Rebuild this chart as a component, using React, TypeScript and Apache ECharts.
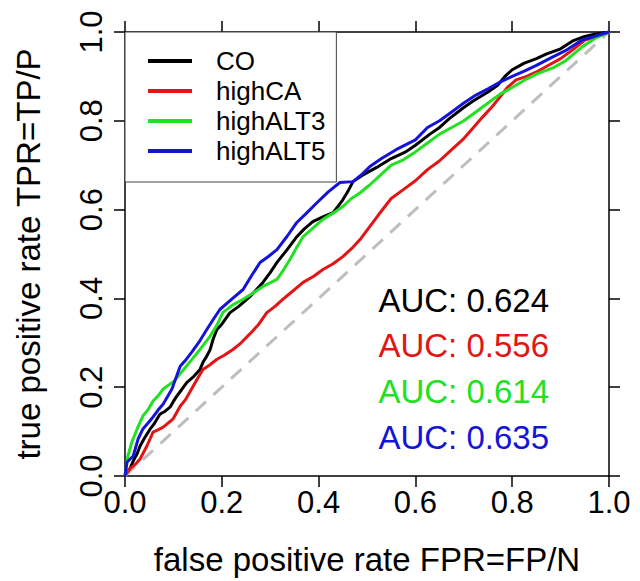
import React, { useEffect, useRef } from "react";
import * as echarts from "echarts";

const FONT = "'Liberation Sans', Arial, Helvetica, sans-serif";

const seriesNames = ["CO", "highCA", "highALT3", "highALT5"];
const seriesColors = ["#000000", "#e31414", "#22e022", "#1414d9"];

const xTickLabels = ["0.0", "0.2", "0.4", "0.6", "0.8", "1.0"];
const yTickLabels = ["0.0", "0.2", "0.4", "0.6", "0.8", "1.0"];

const aucLabels = ["AUC: 0.624", "AUC: 0.556", "AUC: 0.614", "AUC: 0.635"];

const diagonal = [
  [0, 0],
  [1, 1],
];

const coData = [
  [0, 0], [0.004, 0.009], [0.01, 0.016], [0.018, 0.036], [0.025, 0.05], [0.031, 0.067],
  [0.04, 0.085], [0.052, 0.106], [0.06, 0.117], [0.072, 0.139], [0.083, 0.146], [0.093, 0.155],
  [0.1, 0.168], [0.107, 0.18], [0.118, 0.196], [0.128, 0.211], [0.14, 0.222], [0.155, 0.24],
  [0.162, 0.258], [0.169, 0.27], [0.176, 0.285], [0.182, 0.308], [0.19, 0.33], [0.2, 0.342],
  [0.217, 0.368], [0.235, 0.382], [0.258, 0.404], [0.27, 0.418], [0.285, 0.436], [0.3, 0.458],
  [0.314, 0.481], [0.335, 0.51], [0.355, 0.539], [0.37, 0.556], [0.388, 0.573], [0.41, 0.584],
  [0.43, 0.593], [0.44, 0.607], [0.45, 0.622], [0.46, 0.64], [0.471, 0.663], [0.49, 0.677],
  [0.52, 0.695], [0.55, 0.715], [0.58, 0.73], [0.6, 0.745], [0.63, 0.77], [0.65, 0.785],
  [0.67, 0.805], [0.7, 0.83], [0.72, 0.845], [0.75, 0.865], [0.77, 0.88], [0.785, 0.9],
  [0.8, 0.915], [0.825, 0.93], [0.85, 0.94], [0.87, 0.95], [0.9, 0.962], [0.925, 0.98],
  [0.95, 0.99], [0.97, 0.995], [1, 1],
];

const highCAData = [
  [0, 0], [0.01, 0.016], [0.02, 0.025], [0.031, 0.038], [0.045, 0.067], [0.058, 0.099],
  [0.068, 0.104], [0.079, 0.11], [0.09, 0.12], [0.099, 0.128], [0.114, 0.157], [0.125, 0.172],
  [0.134, 0.189], [0.149, 0.218], [0.161, 0.24], [0.175, 0.25], [0.19, 0.263], [0.205, 0.272],
  [0.223, 0.285], [0.24, 0.3], [0.258, 0.32], [0.275, 0.34], [0.293, 0.368], [0.31, 0.382],
  [0.326, 0.398], [0.345, 0.415], [0.368, 0.436], [0.39, 0.45], [0.409, 0.465], [0.43, 0.478],
  [0.45, 0.494], [0.468, 0.512], [0.486, 0.533], [0.506, 0.562], [0.525, 0.59], [0.55, 0.625],
  [0.575, 0.645], [0.6, 0.665], [0.625, 0.69], [0.65, 0.71], [0.675, 0.735], [0.7, 0.76],
  [0.72, 0.785], [0.74, 0.81], [0.758, 0.831], [0.775, 0.854], [0.79, 0.875], [0.808, 0.892],
  [0.83, 0.9], [0.85, 0.91], [0.875, 0.925], [0.9, 0.94], [0.925, 0.96], [0.95, 0.982],
  [0.975, 0.99], [1, 1],
];

const highALT3Data = [
  [0, 0], [0.006, 0.045], [0.014, 0.076], [0.025, 0.106], [0.037, 0.135], [0.048, 0.15],
  [0.058, 0.169], [0.068, 0.18], [0.079, 0.196], [0.093, 0.207], [0.1, 0.212], [0.11, 0.225],
  [0.125, 0.245], [0.14, 0.265], [0.155, 0.285], [0.176, 0.315], [0.19, 0.34], [0.202, 0.368],
  [0.222, 0.385], [0.244, 0.398], [0.265, 0.412], [0.285, 0.427], [0.314, 0.443], [0.328, 0.465],
  [0.341, 0.488], [0.355, 0.515], [0.368, 0.539], [0.39, 0.56], [0.409, 0.578], [0.43, 0.592],
  [0.45, 0.607], [0.468, 0.625], [0.486, 0.638], [0.506, 0.656], [0.525, 0.675], [0.55, 0.7],
  [0.575, 0.712], [0.6, 0.73], [0.625, 0.75], [0.65, 0.77], [0.675, 0.785], [0.7, 0.8],
  [0.725, 0.82], [0.75, 0.84], [0.775, 0.86], [0.8, 0.875], [0.826, 0.892], [0.85, 0.905],
  [0.884, 0.919], [0.91, 0.935], [0.944, 0.966], [0.97, 0.985], [1, 1],
];

const highALT5Data = [
  [0, 0], [0.004, 0.031], [0.017, 0.045], [0.027, 0.083], [0.037, 0.106], [0.048, 0.12],
  [0.058, 0.133], [0.068, 0.148], [0.079, 0.162], [0.097, 0.196], [0.114, 0.247], [0.126, 0.262],
  [0.138, 0.279], [0.155, 0.305], [0.169, 0.33], [0.182, 0.352], [0.196, 0.375], [0.22, 0.398],
  [0.244, 0.42], [0.262, 0.452], [0.279, 0.481], [0.297, 0.495], [0.314, 0.51], [0.335, 0.54],
  [0.355, 0.571], [0.375, 0.592], [0.397, 0.616], [0.42, 0.64], [0.444, 0.661], [0.471, 0.663],
  [0.49, 0.68], [0.506, 0.697], [0.53, 0.715], [0.56, 0.735], [0.6, 0.757], [0.625, 0.785],
  [0.65, 0.8], [0.675, 0.82], [0.7, 0.84], [0.725, 0.858], [0.75, 0.872], [0.775, 0.887],
  [0.8, 0.9], [0.825, 0.912], [0.85, 0.925], [0.884, 0.944], [0.91, 0.958], [0.944, 0.982],
  [0.97, 0.99], [1, 1],
];

const curveData = [coData, highCAData, highALT3Data, highALT5Data];

export default function App() {
  const ref = useRef<HTMLDivElement>(null);

  useEffect(() => {
    if (!ref.current) return;
    const chart = echarts.init(ref.current, undefined, { renderer: "svg" });

    const axisLineStyle = { color: "#000", width: 1.5 };
    const baseAxis = {
      type: "value",
      min: 0,
      max: 1,
      interval: 0.2,
      splitLine: { show: false },
      axisLine: { show: true, onZero: false, lineStyle: axisLineStyle },
      axisTick: { show: true, inside: false, length: 11, lineStyle: axisLineStyle },
    };

    const option: any = {
      animation: false,
      backgroundColor: "#fff",
      grid: { left: 125, right: 31, top: 32, bottom: 104, containLabel: false },
      xAxis: [
        {
          ...baseAxis,
          position: "bottom",
          axisLabel: {
            fontSize: 31,
            color: "#000",
            fontFamily: FONT,
            margin: 11,
            formatter: (_v: number, i: number) => xTickLabels[i],
          },
          name: "false positive rate FPR=FP/N",
          nameLocation: "middle",
          nameGap: 67,
          nameTextStyle: { fontSize: 33, color: "#000", fontFamily: FONT },
        },
        {
          ...baseAxis,
          position: "top",
          axisLabel: { show: false },
        },
      ],
      yAxis: [
        {
          ...baseAxis,
          position: "left",
          axisLabel: {
            fontSize: 31,
            color: "#000",
            fontFamily: FONT,
            margin: 18,
            rotate: 90,
            formatter: (_v: number, i: number) => yTickLabels[i],
          },
          name: "true positive rate TPR=TP/P",
          nameLocation: "middle",
          nameGap: 80,
          nameRotate: 90,
          nameTextStyle: { fontSize: 33, color: "#000", fontFamily: FONT },
        },
        {
          ...baseAxis,
          position: "right",
          axisLabel: { show: false },
        },
      ],
      legend: {
        data: seriesNames,
        orient: "vertical",
        left: 125,
        top: 32,
        padding: [14, 11, 16, 23],
        itemGap: 0,
        itemWidth: 44,
        itemHeight: 4,
        icon: "rect",
        borderColor: "#444",
        borderWidth: 1,
        backgroundColor: "#fff",
        selectedMode: false,
        textStyle: {
          fontSize: 26,
          color: "#000",
          fontFamily: FONT,
          lineHeight: 30,
          padding: [0, 0, 0, 19],
        },
      },
      series: [
        {
          name: "diag",
          type: "line",
          data: diagonal,
          showSymbol: false,
          silent: true,
          lineStyle: { color: "#bebebe", width: 3, type: [14, 10] },
          z: 1,
        },
        ...seriesNames.map((name, i) => ({
          name,
          type: "line",
          data: curveData[i],
          showSymbol: false,
          symbol: "none",
          color: seriesColors[i],
          lineStyle: { color: seriesColors[i], width: 3 },
          z: 2 + i,
        })),
      ],
      graphic: aucLabels.map((t, i) => ({
        type: "text",
        x: 549,
        y: 300 + i * 45.7,
        style: {
          text: t,
          fill: seriesColors[i],
          fontSize: 33,
          fontFamily: FONT,
          textAlign: "right",
          textVerticalAlign: "middle",
        },
      })),
    };

    chart.setOption(option);
    return () => chart.dispose();
  }, []);

  return (
    <div
      ref={ref}
      style={{ width: 640, height: 581, position: "absolute", left: 0, top: 0 }}
    />
  );
}
